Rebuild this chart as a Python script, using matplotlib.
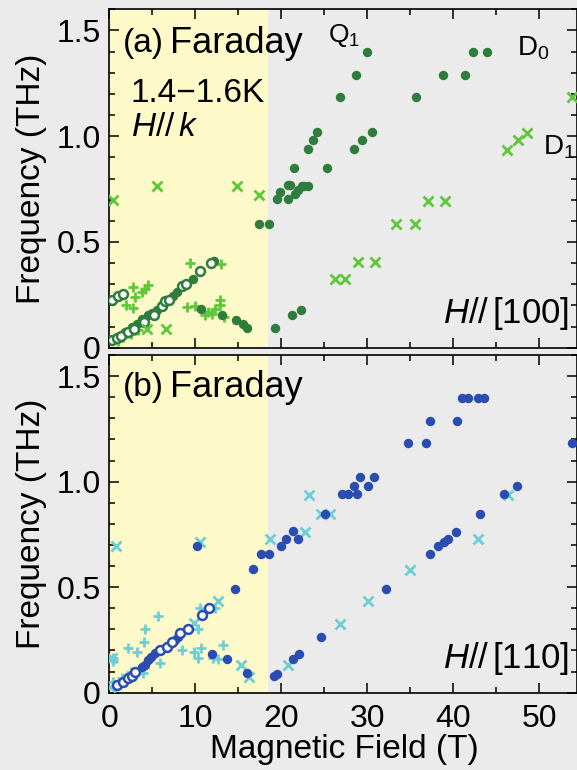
import numpy as np
import matplotlib
matplotlib.use("Agg")
import matplotlib.pyplot as plt
from matplotlib.ticker import MultipleLocator

plt.rcParams['font.family'] = ['Liberation Sans', 'DejaVu Sans']
plt.rcParams['mathtext.fontset'] = 'custom'
plt.rcParams['mathtext.rm'] = 'Liberation Sans'
plt.rcParams['mathtext.it'] = 'Liberation Sans:italic'

# ---- panel (a): H // [100] ----
a_fill_x = [1.2, 1.84, 2.6, 3.2, 3.77, 4.5, 5.0, 5.5, 6.3, 7.06, 7.4, 7.84, 8.8, 9.77, 11.9, 12.2,
            10.7, 13.1, 14.7, 15.5, 16.0,
            17.4, 18.6, 19.3, 21.2, 22.3, 19.5, 19.85, 20.8, 20.8, 21.6, 22.0, 22.6, 23.1, 21.0, 22.4,
            21.5, 25.3, 23.07, 23.7, 24.15, 28.45, 29.35, 30.5, 26.8, 28.65, 30.0,
            35.7, 38.8, 41.4, 42.3, 43.9]
a_fill_y = [0.055, 0.074, 0.098, 0.114, 0.138, 0.153, 0.165, 0.177, 0.200, 0.232, 0.243, 0.263, 0.295, 0.327, 0.405, 0.409,
            0.182, 0.153, 0.133, 0.114, 0.093,
            0.587, 0.587, 0.092, 0.153, 0.180, 0.705, 0.737, 0.768, 0.705, 0.729, 0.745, 0.765, 0.765, 0.768, 0.763,
            0.849, 0.849, 0.940, 0.984, 1.020, 0.940, 0.984, 1.019, 1.184, 1.290, 1.396,
            1.184, 1.290, 1.290, 1.396, 1.396]

a_open_x = [0.28, 0.85, 1.4, 2.2, 2.9, 4.0, 5.2, 6.1, 6.5, 7.0, 8.5, 8.9, 10.55, 11.8, 0.28, 1.05, 1.63]
a_open_y = [0.035, 0.045, 0.057, 0.074, 0.090, 0.122, 0.153, 0.196, 0.222, 0.224, 0.290, 0.300, 0.362, 0.402,
            0.227, 0.245, 0.256]

a_plus_x = [2.8, 2.0, 2.8, 3.0, 3.77, 4.15, 4.5, 9.38, 13.0, 9.0, 10.0, 11.1, 11.5, 11.9, 12.3, 12.9, 12.9, 13.3,
            1.0, 1.6, 2.5, 3.3]
a_plus_y = [0.287, 0.200, 0.190, 0.240, 0.263, 0.280, 0.295, 0.402, 0.398, 0.193, 0.197, 0.153, 0.169, 0.161,
            0.185, 0.224, 0.200, 0.145, 0.030, 0.050, 0.065, 0.085]

a_cross_x = [0.47, 5.5, 14.9, 17.4, 4.35, 6.55, 26.2, 27.4, 28.9, 30.9, 33.4, 35.5, 37.1, 39.1, 46.3, 47.5, 48.6, 53.8]
a_cross_y = [0.700, 0.765, 0.765, 0.720, 0.088, 0.088, 0.327, 0.327, 0.405, 0.405, 0.584, 0.584, 0.693, 0.693,
             0.937, 0.981, 1.017, 1.184]

# ---- panel (b): H // [110] ----
b_fill_x = [3.8, 4.15, 4.5, 4.9, 5.3, 7.6, 7.95,
            10.2, 14.6, 16.7, 17.7, 18.6, 12.0, 13.65, 16.0, 19.15, 19.5,
            20.0, 20.6, 21.4, 22.0, 21.4, 22.1, 24.6, 32.2,
            25.1, 27.1, 27.8, 28.8, 28.45, 30.1, 29.2, 30.8, 34.8, 36.8, 37.3, 40.4,
            41.0, 41.7, 42.9, 43.6, 53.8, 43.1, 45.9, 47.4,
            37.3, 38.2, 38.95, 39.4, 40.3]
b_fill_y = [0.120, 0.131, 0.154, 0.170, 0.186, 0.252, 0.265,
            0.694, 0.490, 0.586, 0.658, 0.658, 0.181, 0.158, 0.092, 0.079, 0.088,
            0.694, 0.729, 0.764, 0.729, 0.158, 0.181, 0.262, 0.490,
            0.847, 0.939, 0.939, 0.939, 0.981, 0.981, 1.020, 1.020, 1.183, 1.183, 1.288, 1.288,
            1.394, 1.394, 1.394, 1.394, 1.183, 0.847, 0.939, 0.981,
            0.658, 0.694, 0.713, 0.729, 0.760]

b_open_x = [0.86, 1.63, 2.2, 2.6, 3.0, 5.9, 6.67, 7.26, 8.2, 9.1, 10.75, 11.6]
b_open_y = [0.038, 0.052, 0.068, 0.079, 0.100, 0.200, 0.217, 0.241, 0.285, 0.300, 0.367, 0.401]

b_plus_x = [5.7, 4.1, 4.07, 2.2, 3.2, 5.9, 8.5, 9.9, 10.35, 10.7, 10.5, 10.35, 12.1, 13.2, 12.7,
            0.47, 0.47, 12.3, 3.9, 0.66, 0.4, 1.5, 2.5, 5.0]
b_plus_y = [0.362, 0.300, 0.241, 0.210, 0.194, 0.142, 0.200, 0.194, 0.164, 0.210, 0.399, 0.300, 0.162, 0.225, 0.158,
            0.162, 0.150, 0.400, 0.092, 0.028, 0.050, 0.070, 0.100, 0.170]

b_cross_x = [0.78, 10.5, 18.7, 12.7, 15.3, 16.2, 0.28, 0.1, 9.8, 20.8, 23.2, 24.6, 25.7, 22.75, 46.4, 42.9,
             26.8, 30.1, 35.0]
b_cross_y = [0.694, 0.716, 0.729, 0.436, 0.131, 0.076, 0.162, 0.028, 0.328, 0.131, 0.937, 0.847, 0.847, 0.760,
             0.937, 0.730, 0.324, 0.433, 0.583]

bg = '#ebebeb'
yellow = '#fdf9c9'
dark_green = '#2f7d3c'
light_green = '#5ec83a'
blue = '#2b4db2'
cyan = '#6ccfd5'

fig = plt.figure(figsize=(5.77, 7.70), dpi=100, facecolor=bg)
ax_a = fig.add_axes([0.1894, 0.5484, 0.8106, 0.4395])
ax_b = fig.add_axes([0.1894, 0.1004, 0.8106, 0.4386])

def style(ax):
    ax.set_facecolor(bg)
    ax.axvspan(0, 18.5, color=yellow, zorder=0, lw=0)
    ax.set_xlim(0, 54.4)
    ax.set_ylim(0, 1.6)
    ax.xaxis.set_major_locator(MultipleLocator(10))
    ax.xaxis.set_minor_locator(MultipleLocator(5))
    ax.yaxis.set_major_locator(MultipleLocator(0.5))
    ax.yaxis.set_minor_locator(MultipleLocator(0.1))
    ax.tick_params(which='both', direction='in', top=True, right=True, width=1.1, labelsize=23)
    ax.tick_params(which='major', length=7.5)
    ax.tick_params(which='minor', length=4)
    ax.tick_params(axis='y', pad=6)
    ax.tick_params(axis='x', pad=8)
    ax.set_yticks([0, 0.5, 1.0, 1.5])
    ax.set_yticklabels(['0', '0.5', '1.0', '1.5'])
    for s in ax.spines.values():
        s.set_linewidth(1.2)

style(ax_a)
style(ax_b)

ms = 6.8
ax_a.plot(a_plus_x, a_plus_y, '+', color=light_green, ms=7.5, mew=2.0, ls='none', zorder=3)
ax_a.plot(a_fill_x, a_fill_y, 'o', color=dark_green, ms=ms, mew=0, ls='none', zorder=4)
ax_a.plot(a_open_x, a_open_y, 'o', mfc='white', mec=dark_green, ms=6.4, mew=1.8, ls='none', zorder=5)
ax_a.plot(a_cross_x, a_cross_y, 'x', color=light_green, ms=6.5, mew=2.0, ls='none', zorder=6)
ax_a.tick_params(labelbottom=False)

ax_b.plot(b_plus_x, b_plus_y, '+', color=cyan, ms=7.5, mew=2.0, ls='none', zorder=3)
ax_b.plot(b_fill_x, b_fill_y, 'o', color=blue, ms=ms, mew=0, ls='none', zorder=4)
ax_b.plot(b_open_x, b_open_y, 'o', mfc='white', mec=blue, ms=6.4, mew=1.8, ls='none', zorder=5)
ax_b.plot(b_cross_x, b_cross_y, 'x', color=cyan, ms=6.5, mew=2.0, ls='none', zorder=3.5)
ax_b.set_xticks([0, 10, 20, 30, 40, 50])

# annotations
ax_a.text(1.6, 1.44, '(a)', fontsize=24, va='center', ha='left')
ax_a.text(7.1, 1.44, 'Faraday', fontsize=26, va='center', ha='left')
ax_a.text(2.5, 1.20, '1.4\u22121.6K', fontsize=24, va='center', ha='left')
ax_a.text(2.5, 1.04, r'$H//\,k$', fontsize=24, va='center', ha='left')
ax_a.text(25.4, 1.478, r'Q$_1$', fontsize=19, va='center', ha='left')
ax_a.text(47.4, 1.416, r'D$_0$', fontsize=20, va='center', ha='left')
ax_a.text(50.5, 0.948, r'D$_1$', fontsize=20, va='center', ha='left')
ax_a.text(53.5, 0.163, r'$H//\,$[100]', fontsize=25, va='center', ha='right')

ax_b.text(1.6, 1.444, '(b)', fontsize=24, va='center', ha='left')
ax_b.text(7.1, 1.444, 'Faraday', fontsize=26, va='center', ha='left')
ax_b.text(53.5, 0.164, r'$H//\,$[110]', fontsize=25, va='center', ha='right')

fig.text(0.055, 0.768, 'Frequency (THz)', rotation=90, fontsize=24, ha='center', va='center')
fig.text(0.055, 0.320, 'Frequency (THz)', rotation=90, fontsize=24, ha='center', va='center')
fig.text(0.597, 0.026, 'Magnetic Field (T)', fontsize=24, ha='center', va='center')

fig.savefig('out.png', dpi=100, facecolor=bg)
